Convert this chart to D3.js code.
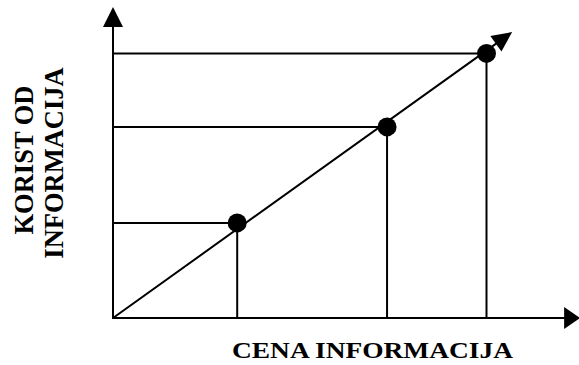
<!DOCTYPE html>
<html>
<head>
<meta charset="utf-8">
<script src="https://cdn.jsdelivr.net/npm/d3@7"></script>
<style>
  html, body { margin: 0; padding: 0; background: #fff; }
  svg { display: block; }
</style>
</head>
<body>
<svg id="chart" width="579" height="365"></svg>
<script>
// Data (abstract units, 0..10 on each axis)
const pointX = [2.76, 6.09, 8.3];
const pointY = [3.17, 6.37, 8.82];
const diagonalEnd = [8.87, 9.53];
const xAxisEnd = 10.38;
const yAxisEnd = 10.37;
const xLabel = "CENA INFORMACIJA";
const yLabelLines = ["KORIST OD", "INFORMACIJA"];

const svg = d3.select("#chart");
const x = d3.scaleLinear().domain([0, 10]).range([113, 563]);
const y = d3.scaleLinear().domain([0, 10]).range([318, 18]);

const g = svg.append("g");

function arrowHead(x1, y1, x2, y2, len, half) {
  const dx = x2 - x1, dy = y2 - y1;
  const L = Math.hypot(dx, dy);
  const ux = dx / L, uy = dy / L;
  const bx = x2 - ux * len, by = y2 - uy * len;
  const px = -uy, py = ux;
  return `M${x2},${y2}L${bx + px * half},${by + py * half}L${bx - px * half},${by - py * half}Z`;
}

// Guide lines: horizontal from y-axis to point, vertical from point to x-axis
g.selectAll("line.h").data(pointX).enter().append("line")
  .attr("class", "h")
  .attr("x1", x(0)).attr("x2", (d) => x(d))
  .attr("y1", (d, i) => y(pointY[i])).attr("y2", (d, i) => y(pointY[i]))
  .attr("stroke", "#000").attr("stroke-width", 2);
g.selectAll("line.v").data(pointX).enter().append("line")
  .attr("class", "v")
  .attr("x1", (d) => x(d)).attr("x2", (d) => x(d))
  .attr("y1", (d, i) => y(pointY[i])).attr("y2", y(0))
  .attr("stroke", "#000").attr("stroke-width", 2);

// Diagonal line with arrow
const dx0 = x(0), dy0 = y(0), dx1 = x(diagonalEnd[0]), dy1 = y(diagonalEnd[1]);
const dL = Math.hypot(dx1 - dx0, dy1 - dy0);
g.append("line")
  .attr("x1", dx0).attr("y1", dy0)
  .attr("x2", dx1 - (dx1 - dx0) / dL * 15).attr("y2", dy1 - (dy1 - dy0) / dL * 15)
  .attr("stroke", "#000").attr("stroke-width", 2);
g.append("path").attr("d", arrowHead(dx0, dy0, dx1, dy1, 20, 9.5)).attr("fill", "#000");

// Axes
g.append("line")
  .attr("x1", x(0)).attr("y1", y(0) + 1)
  .attr("x2", x(0)).attr("y2", y(yAxisEnd) + 18)
  .attr("stroke", "#000").attr("stroke-width", 2);
g.append("path").attr("d", arrowHead(x(0), y(0), x(0), y(yAxisEnd), 20, 10)).attr("fill", "#000");
g.append("line")
  .attr("x1", x(0) - 1).attr("y1", y(0))
  .attr("x2", x(xAxisEnd) - 14).attr("y2", y(0))
  .attr("stroke", "#000").attr("stroke-width", 2);
g.append("path").attr("d", arrowHead(x(0), y(0), x(xAxisEnd), y(0), 16, 11)).attr("fill", "#000");

// Points
g.selectAll("circle").data(pointX).enter().append("circle")
  .attr("cx", (d) => x(d)).attr("cy", (d, i) => y(pointY[i]))
  .attr("r", 9.5).attr("fill", "#000");

// Labels
const font = "'Liberation Serif', 'Times New Roman', serif";
svg.append("text")
  .attr("x", 372.5).attr("y", 357.5)
  .attr("text-anchor", "middle")
  .attr("font-family", font).attr("font-weight", "bold")
  .attr("font-size", 23)
  .attr("textLength", 281).attr("lengthAdjust", "spacingAndGlyphs")
  .text(xLabel);

const yLab = [{ t: yLabelLines[0], bx: 32.5, cy: 160 }, { t: yLabelLines[1], bx: 63, cy: 163 }];
svg.selectAll("text.ylab").data(yLab).enter().append("text")
  .attr("class", "ylab")
  .attr("transform", (d) => `translate(${d.bx},${d.cy}) rotate(-90)`)
  .attr("text-anchor", "middle")
  .attr("font-family", font).attr("font-weight", "bold")
  .attr("font-size", 26.5)
  .text((d) => d.t);
</script>
</body>
</html>
